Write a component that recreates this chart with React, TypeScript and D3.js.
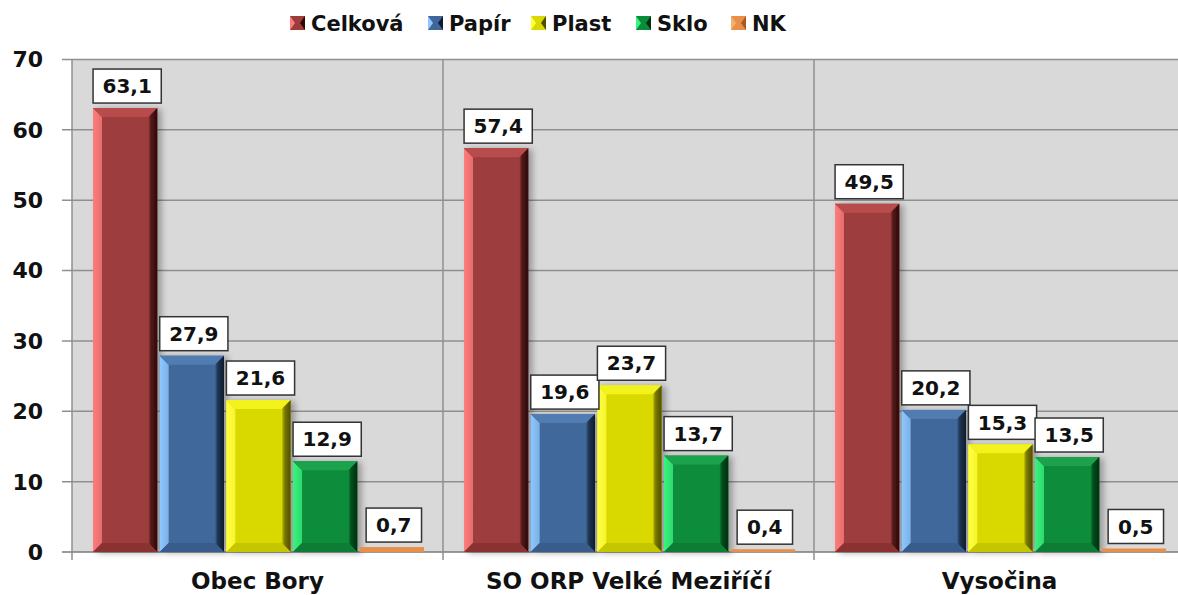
import * as d3 from "d3";

const SvgWidth = 1178;
const SvgHeight = 595;

// data
const categories = ["Obec Bory", "SO ORP Velké Meziříčí", "Vysočina"];
const seriesNames = ["Celková", "Papír", "Plast", "Sklo", "NK"];
const celkova = [63.1, 57.4, 49.5];
const papir = [27.9, 19.6, 20.2];
const plast = [21.6, 23.7, 15.3];
const sklo = [12.9, 13.7, 13.5];
const nk = [0.7, 0.4, 0.5];
const yTicks = [0, 10, 20, 30, 40, 50, 60, 70];

const seriesValues = [celkova, papir, plast, sklo, nk];

// face, left, top, right, bottom
const palette = [
  { face: "#9e3c3c", left: "#ff7c7c", top: "#b84c4c", right: "#2e0808", bottom: "#8a3232" },
  { face: "#3f679b", left: "#8ec8ff", top: "#517cb2", right: "#101c2e", bottom: "#375c8c" },
  { face: "#d9d900", left: "#ffff40", top: "#f2f21a", right: "#4e4e00", bottom: "#c6c600" },
  { face: "#0b8c3b", left: "#38f47e", top: "#1ea24e", right: "#00300f", bottom: "#0a7c34" },
  { face: "#e8904a", left: "#f5b070", top: "#f0a060", right: "#a85a20", bottom: "#c07030" },
];

const legendX = [290, 428, 531, 636, 731];

const plotLeft = 72;
const plotRight = 1185;
const plotTop = 59.5;
const plotBottom = 552;

const fmt = (v: number) => v.toFixed(1).replace(".", ",");

function Bar({ x0, x1, y0, yb, c, i }: any) {
  const h = yb - y0;
  const b = Math.min(9, h / 2, (x1 - x0) / 2);
  if (h < 8) {
    return <rect x={x0} y={y0} width={x1 - x0} height={h} fill={c.face} />;
  }
  const pts = (a: number[][]) => a.map((p) => p.join(",")).join(" ");
  return (
    <g filter="url(#shadow)">
      <rect x={x0} y={y0} width={x1 - x0} height={h} fill={c.face} />
      <polygon points={pts([[x0, y0], [x0 + b, y0 + b], [x0 + b, yb - b], [x0, yb]])} fill={`url(#left${i})`} />
      <polygon points={pts([[x0, y0], [x1, y0], [x1 - b, y0 + b], [x0 + b, y0 + b]])} fill={c.top} />
      <polygon points={pts([[x1, y0], [x1, yb], [x1 - b, yb - b], [x1 - b, y0 + b]])} fill={`url(#right${i})`} />
      <polygon points={pts([[x0, yb], [x0 + b, yb - b], [x1 - b, yb - b], [x1, yb]])} fill={c.bottom} />
    </g>
  );
}

export default function App() {
  const yScale = d3.scaleLinear().domain([0, 70]).range([plotBottom, plotTop]);
  const xCat = d3.scaleBand().domain(categories).range([plotLeft, plotRight]).padding(0);
  const xSer = d3.scaleBand().domain(seriesNames).range([21, 352]).paddingInner(0.035).paddingOuter(0);

  const font = "'DejaVu Sans', Verdana, sans-serif";

  return (
    <div style={{ position: "absolute", left: 0, top: 0 }}>
      <svg width={SvgWidth} height={SvgHeight} style={{ display: "block" }}>
        <defs>
          <filter id="shadow" x="-20%" y="-5%" width="150%" height="115%">
            <feDropShadow dx="4" dy="1" stdDeviation="3" floodColor="#000" floodOpacity="0.3" />
          </filter>
          {palette.map((c, i) => (
            <linearGradient key={"l" + i} id={`left${i}`} x1="0" x2="1" y1="0" y2="0">
              <stop offset="0" stopColor={c.left} />
              <stop offset="1" stopColor={c.left} stopOpacity="0.75" />
            </linearGradient>
          ))}
          {palette.map((c, i) => (
            <linearGradient key={"r" + i} id={`right${i}`} x1="0" x2="1" y1="0" y2="0">
              <stop offset="0" stopColor={c.face} />
              <stop offset="0.35" stopColor={c.right} stopOpacity="0.7" />
              <stop offset="1" stopColor={c.right} />
            </linearGradient>
          ))}
        </defs>
        <rect width={SvgWidth} height={SvgHeight} fill="#ffffff" />
        <rect x={plotLeft} y={plotTop} width={plotRight - plotLeft} height={plotBottom - plotTop} fill="#d9d9d9" />

        {/* gridlines + y ticks */}
        {yTicks.map((t) => (
          <g key={t}>
            <line x1={62} x2={plotRight} y1={yScale(t)} y2={yScale(t)} stroke={t === 0 ? "#7a7a7a" : "#8f8f8f"} strokeWidth={1.5} />
            <text x={43} y={yScale(t)} dy="0.36em" textAnchor="end" fontFamily={font} fontWeight="bold" fontSize={22} fill="#111">
              {t}
            </text>
          </g>
        ))}

        {/* vertical axis and category dividers */}
        {[plotLeft, xCat(categories[1])!, xCat(categories[2])!].map((x, i) => (
          <line key={i} x1={x} x2={x} y1={plotTop} y2={plotBottom + 8} stroke="#8f8f8f" strokeWidth={1.5} />
        ))}

        {/* bars */}
        {categories.map((cat, ci) => (
          <g key={cat}>
            {seriesNames.map((s, si) => {
              const v = seriesValues[si][ci];
              const x0 = xCat(cat)! + xSer(s)!;
              const x1 = x0 + xSer.bandwidth();
              return <Bar key={s} x0={x0} x1={x1} y0={yScale(v)} yb={yScale(0)} c={palette[si]} i={si} />;
            })}
          </g>
        ))}

        {/* value labels */}
        {categories.map((cat, ci) => (
          <g key={cat + "-lbl"}>
            {seriesNames.map((s, si) => {
              const v = seriesValues[si][ci];
              const label = fmt(v);
              const cx = xCat(cat)! + xSer(s)! + xSer.bandwidth() / 2 + 2;
              const w = label.length * 12.8 + 17;
              const yBottom = yScale(v) - 5;
              return (
                <g key={s}>
                  <rect x={cx - w / 2} y={yBottom - 34} width={w} height={34} fill="#ffffff" stroke="#333" strokeWidth={1.5} />
                  <text x={cx} y={yBottom - 17} dy="0.36em" textAnchor="middle" fontFamily={font} fontWeight="bold" fontSize={20} fill="#111">
                    {label}
                  </text>
                </g>
              );
            })}
          </g>
        ))}

        {/* category labels */}
        {categories.map((cat) => (
          <text key={cat + "-x"} x={xCat(cat)! + xCat.bandwidth() / 2} y={589} textAnchor="middle" fontFamily={font} fontWeight="bold" fontSize={23} fill="#111">
            {cat}
          </text>
        ))}

        {/* legend */}
        {seriesNames.map((s, i) => (
          <g key={s + "-leg"} transform={`translate(${legendX[i]}, 23)`}>
            <rect x={0} y={-7} width={15} height={14} fill={palette[i].face} />
            <polygon points="0,-7 5,0 0,7" fill={palette[i].left} />
            <polygon points="15,-7 10,0 15,7" fill={palette[i].right} />
            <text x={21} y={0} dy="0.36em" fontFamily={font} fontWeight="bold" fontSize={21} fill="#111">
              {s}
            </text>
          </g>
        ))}
      </svg>
    </div>
  );
}
